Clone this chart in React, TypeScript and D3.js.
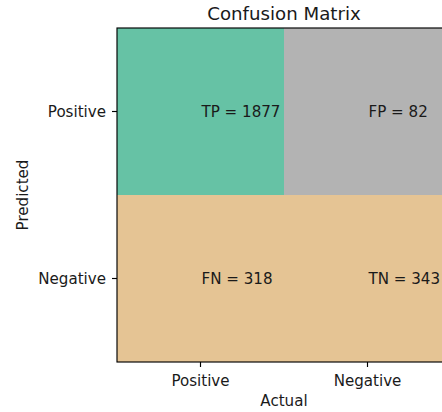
import React from "react";
import * as d3 from "d3";

const predicted = ["Positive", "Negative"];
const actual = ["Positive", "Negative"];
const cellTags = [
  ["TP", "FP"],
  ["FN", "TN"],
];
const cellValues = [
  [1877, 82],
  [318, 343],
];
const cellColors = [
  ["#66c2a5", "#b3b3b3"],
  ["#e5c494", "#e5c494"],
];

const W = 442;
const H = 412;
const margin = { left: 117, top: 28 };
const side = 334;
const font = "DejaVu Sans, sans-serif";
const fs = 15.1;
const ink = "#1a1a1a";

const App: React.FC = () => {
  const x = d3
    .scaleBand<string>()
    .domain(actual)
    .range([margin.left, margin.left + side]);
  const y = d3
    .scaleBand<string>()
    .domain(predicted)
    .range([margin.top, margin.top + side]);
  const bw = x.bandwidth();
  const bh = y.bandwidth();
  const bottom = margin.top + side;

  return (
    <svg
      width={W}
      height={H}
      style={{ position: "fixed", left: 0, top: 0, background: "#fff" }}
      fontFamily={font}
    >
      {predicted.map((p, i) =>
        actual.map((a, j) => (
          <g key={`${i}-${j}`}>
            <rect
              x={x(a)}
              y={y(p)}
              width={bw}
              height={bh}
              fill={cellColors[i][j]}
            />
            <text
              x={x(a)! + bw / 2 + 1}
              y={y(p)! + bh / 2}
              dy="0.35em"
              fontSize={fs}
              fill={ink}
            >
              {`${cellTags[i][j]} = ${cellValues[i][j]}`}
            </text>
          </g>
        ))
      )}
      <rect
        x={margin.left}
        y={margin.top}
        width={side}
        height={side}
        fill="none"
        stroke="#000"
        strokeWidth={1.15}
      />
      {actual.map((a) => {
        const cx = x(a)! + bw / 2;
        return (
          <g key={"x" + a}>
            <line x1={cx} x2={cx} y1={bottom} y2={bottom + 5} stroke="#000" strokeWidth={1.15} />
            <text x={cx} y={386} textAnchor="middle" fontSize={fs} fill={ink}>
              {a}
            </text>
          </g>
        );
      })}
      {predicted.map((p) => {
        const cy = y(p)! + bh / 2;
        return (
          <g key={"y" + p}>
            <line
              x1={margin.left - 5}
              x2={margin.left}
              y1={cy}
              y2={cy}
              stroke="#000"
              strokeWidth={1.15}
            />
            <text
              x={106}
              y={cy}
              dy="0.35em"
              textAnchor="end"
              fontSize={fs}
              fill={ink}
            >
              {p}
            </text>
          </g>
        );
      })}
      <text
        x={margin.left + side / 2}
        y={406}
        textAnchor="middle"
        fontSize={fs}
        fill={ink}
      >
        Actual
      </text>
      <text
        transform={`translate(28,${margin.top + side / 2}) rotate(-90)`}
        textAnchor="middle"
        fontSize={fs}
        fill={ink}
      >
        Predicted
      </text>
      <text
        x={margin.left + side / 2}
        y={20}
        textAnchor="middle"
        fontSize={18.2}
        fill={ink}
      >
        Confusion Matrix
      </text>
    </svg>
  );
};

export default App;
